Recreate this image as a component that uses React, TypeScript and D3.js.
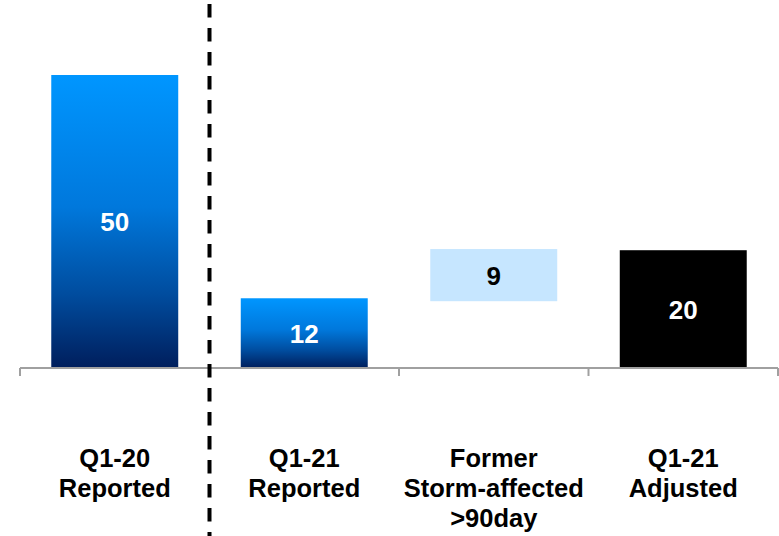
import React from "react";
import * as d3 from "d3";

const categories: string[][] = [
  ["Q1-20", "Reported"],
  ["Q1-21", "Reported"],
  ["Former", "Storm-affected", ">90day"],
  ["Q1-21", "Adjusted"],
];
const barBase = [0, 0, 11.4, 0];
const barValue = [50, 11.9, 8.9, 20.1];
const valueLabels = ["50", "12", "9", "20"];
const barKinds = ["gradient", "gradient", "light", "black"];

const W = 779;
const H = 536;

export default function App() {
  const x = d3
    .scaleBand<number>()
    .domain(categories.map((_, i) => i))
    .range([20, 778])
    .paddingInner(0.33)
    .paddingOuter(0.165);
  const band = d3.scaleBand<number>().domain(categories.map((_, i) => i)).range([20, 778]);
  const y = d3.scaleLinear().domain([0, 50]).range([368, 75]);
  const ticks = d3.range(categories.length + 1).map((i) => 20 + i * band.bandwidth());
  const fillFor = (k: string) =>
    k === "gradient" ? "url(#blueGrad)" : k === "light" ? "#C6E6FF" : "#000000";
  const textFor = (k: string) => (k === "light" ? "#000000" : "#FFFFFF");
  const font = "Arial, 'Liberation Sans', Helvetica, sans-serif";
  return (
    <svg
      width={W}
      height={H}
      style={{ position: "absolute", left: 0, top: 0, background: "#fff" }}
    >
      <defs>
        <linearGradient id="blueGrad" x1="0" y1="0" x2="0" y2="1">
          <stop offset="0%" stopColor="#0096FF" />
          <stop offset="45%" stopColor="#0078DC" />
          <stop offset="75%" stopColor="#004C9E" />
          <stop offset="100%" stopColor="#001E5C" />
        </linearGradient>
      </defs>
      {barValue.map((v, i) => {
        const top = y(barBase[i] + v);
        const bottom = y(barBase[i]);
        const bx = x(i)!;
        return (
          <g key={i}>
            <rect x={bx} y={top} width={x.bandwidth()} height={bottom - top} fill={fillFor(barKinds[i])} />
            <text
              x={bx + x.bandwidth() / 2}
              y={(top + bottom) / 2 + 9.5}
              textAnchor="middle"
              fontFamily={font}
              fontWeight="bold"
              fontSize={26}
              fill={textFor(barKinds[i])}
            >
              {valueLabels[i]}
            </text>
          </g>
        );
      })}
      <line x1={20} x2={778} y1={368} y2={368} stroke="#A0A0A0" strokeWidth={2} />
      {ticks.map((t, i) => (
        <line key={i} x1={t} x2={t} y1={368} y2={376} stroke="#A0A0A0" strokeWidth={2} />
      ))}
      <line
        x1={ticks[1]}
        x2={ticks[1]}
        y1={4}
        y2={H}
        stroke="#000"
        strokeWidth={4}
        strokeDasharray="13.5 10.5"
      />
      {categories.map((lines, i) => {
        const cx = band(i)! + band.bandwidth() / 2;
        return (
          <g key={i} transform={`translate(${cx},0)`}>
            {lines.map((l, j) => (
              <text
                key={j}
                x={0}
                y={467 + j * 30}
                textAnchor="middle"
                fontFamily={font}
                fontWeight="bold"
                fontSize={25.5}
                fill="#000"
              >
                {l}
              </text>
            ))}
          </g>
        );
      })}
    </svg>
  );
}
